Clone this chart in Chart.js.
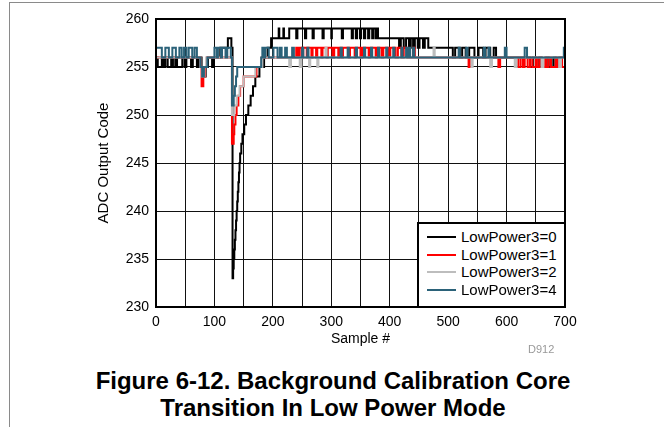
<!DOCTYPE html>
<html>
<head>
<meta charset="utf-8">
<script src="https://cdn.jsdelivr.net/npm/chart.js@4.4.1/dist/chart.umd.min.js"></script>
<style>
  html, body { margin: 0; padding: 0; background: #fff; }
  body { width: 664px; height: 427px; position: relative; overflow: hidden; font-family: "Liberation Sans", Arial, sans-serif; }
  #frame { position: absolute; left: 9px; top: 2px; width: 700px; height: 500px; border-left: 1px solid #8a8a8a; border-top: 1px solid #8a8a8a; box-sizing: border-box; }
  #c { position: absolute; left: 0; top: 0; }
  #legend { position: absolute; left: 417px; top: 222px; width: 149px; height: 86px; border: 2px solid #000; background: #fff; box-sizing: border-box; }
  .item { position: absolute; left: 0; height: 18px; width: 145px; }
  .item .ln { position: absolute; left: 8px; top: 8px; width: 29px; height: 2px; }
  .item .tx { position: absolute; left: 42px; top: 0; font-size: 15px; line-height: 18px; color: #000; white-space: nowrap; }
  #title { position: absolute; left: 0; width: 666px; top: 367px; text-align: center; font-weight: bold; font-size: 24px; line-height: 27px; color: #000; }
  #code { position: absolute; left: 528px; top: 343px; font-size: 11px; color: #999; }
</style>
</head>
<body>
<div id="frame"></div>
<canvas id="c" width="664" height="360"></canvas>
<div id="legend"></div>
<div id="code">D912</div>
<div id="title">Figure 6-12. Background Calibration Core<br>Transition In Low Power Mode</div>
<script>
// Step change points: [sample #, ADC code]
const lowPower0 = [[0,256],[3,255],[10,256],[13,255],[16,256],[20,255],[26,256],[29,255],[33,256],[36,255],[45,256],[49,255],[52,256],[60,255],[63,256],[70,255],[73,256],[78,255],[80,254],[85,255],[89,256],[96,255],[99,256],[110,257],[123,258],[129,257],[131,233],[132,234],[133,235],[134,236],[135,237],[136,238],[137,239],[138,240],[139,241],[140,242],[141,243],[142,244],[143,245],[144,246],[146,247],[148,248],[151,249],[154,250],[158,251],[162,252],[166,253],[170,254],[177,255],[185,256],[191,257],[197,258],[210,259],[211,258],[218,259],[219,258],[228,259],[240,258],[242,259],[255,258],[257,259],[268,258],[270,259],[285,258],[287,259],[300,258],[301,259],[318,258],[320,259],[335,258],[337,259],[342,258],[344,259],[349,258],[351,259],[356,258],[358,259],[363,258],[365,259],[370,258],[372,259],[376,258],[377,259],[380,258],[416,257],[419,258],[424,257],[428,258],[433,257],[436,258],[440,257],[443,258],[448,257],[451,258],[457,257],[460,258],[466,257],[508,256],[512,257],[520,256],[524,257],[530,256],[536,257],[545,256],[552,257],[560,256],[564,257],[572,256],[578,257],[582,256],[640,255],[645,256],[650,255],[656,256],[660,255],[668,256],[672,255],[680,256],[684,255],[690,256],[694,255],[700,255]];
const lowPower1 = [[0,256],[76,255],[78,253],[81,254],[84,255],[87,256],[130,247],[133,248],[134,249],[136,250],[138,251],[141,252],[144,253],[150,254],[172,255],[181,256],[240,257],[243,256],[246,257],[250,256],[252,257],[258,256],[260,257],[266,256],[268,257],[274,256],[276,257],[283,256],[285,257],[292,256],[294,257],[302,256],[305,257],[312,256],[314,257],[318,256],[320,257],[330,256],[332,257],[340,256],[342,257],[350,256],[353,257],[364,256],[366,257],[376,256],[378,257],[386,256],[389,257],[398,256],[401,257],[410,256],[414,257],[420,256],[424,257],[430,256],[440,257],[443,256],[535,255],[537,256],[586,255],[589,256],[620,255],[624,256],[628,255],[631,256],[636,255],[640,256],[644,255],[650,256],[652,255],[656,256],[660,255],[666,256],[668,255],[672,256],[676,255],[684,256],[687,255],[692,256],[695,255],[700,255]];
const lowPower2 = [[0,256],[76,255],[79,254],[83,255],[86,256],[130,250],[134,251],[138,252],[143,253],[150,254],[170,255],[182,256],[228,255],[231,256],[246,255],[249,256],[262,255],[264,256],[276,255],[278,256],[290,257],[292,256],[475,257],[477,256],[540,255],[542,256],[572,255],[575,256],[614,255],[617,256],[660,255],[663,256],[690,255],[693,256],[700,256]];
const lowPower4 = [[0,257],[10,256],[16,257],[22,256],[28,257],[34,256],[40,257],[44,256],[48,257],[52,256],[56,257],[62,256],[66,257],[70,256],[76,255],[79,254],[82,255],[88,256],[100,257],[104,256],[106,257],[111,256],[113,257],[119,256],[122,257],[128,256],[130,251],[133,252],[135,253],[137,254],[139,255],[180,256],[182,257],[185,256],[187,257],[193,256],[201,257],[208,256],[212,257],[215,256],[221,257],[224,256],[233,257],[236,256],[250,257],[252,256],[259,257],[261,256],[316,257],[318,256],[328,257],[330,256],[342,257],[344,256],[356,257],[358,256],[368,257],[370,256],[380,257],[382,256],[394,257],[396,256],[406,257],[408,256],[420,257],[422,256],[428,257],[430,256],[433,257],[435,256],[440,257],[442,256],[518,257],[520,256],[531,257],[533,256],[561,257],[563,256],[569,257],[571,256],[597,257],[600,256],[631,257],[635,256],[698,257],[700,257]];

const seriesNames = ['LowPower3=0', 'LowPower3=1', 'LowPower3=2', 'LowPower3=4'];
const seriesData = [lowPower0, lowPower1, lowPower2, lowPower4];
const seriesColors = ['#000000', '#ff0000', '#bdbdbd', '#2b6279'];
const xTicks = [0, 100, 200, 300, 400, 500, 600, 700];
const yTicks = [230, 235, 240, 245, 250, 255, 260];

const font = { family: '"Liberation Sans", Arial, sans-serif', size: 14 };
const yTitleFont = { family: '"Liberation Sans", Arial, sans-serif', size: 15 };

const frameBorder = {
  id: 'frameBorder',
  afterDatasetsDraw(chart) {
    const a = chart.chartArea, ctx = chart.ctx;
    ctx.save();
    ctx.strokeStyle = '#000';
    ctx.lineWidth = 2;
    ctx.strokeRect(a.left, a.top, a.right - a.left, a.bottom - a.top);
    ctx.restore();
  }
};

new Chart(document.getElementById('c'), {
  type: 'line',
  data: {
    datasets: seriesData.map((d, i) => ({
      label: seriesNames[i],
      data: d.map(p => ({ x: p[0], y: p[1] })),
      borderColor: seriesColors[i],
      backgroundColor: seriesColors[i],
      borderWidth: 2,
      pointRadius: 0,
      stepped: true,
      fill: false,
      order: 4 - i
    }))
  },
  options: {
    responsive: false,
    animation: false,
    layout: { padding: { left: 0, top: 19, right: 99, bottom: 0 } },
    plugins: { legend: { display: false }, tooltip: { enabled: false } },
    scales: {
      x: {
        type: 'linear', min: 0, max: 700,
        ticks: {
          stepSize: 50, autoSkip: false, maxRotation: 0, padding: 7, color: '#000', font,
          callback: v => (xTicks.includes(v) ? String(v) : '')
        },
        grid: { color: '#111', lineWidth: 1, drawTicks: false },
        border: { display: true, color: '#000', width: 2 },
        title: { display: true, text: 'Sample #', color: '#000', font, padding: { top: 0, bottom: 12 } },
        afterFit: s => { s.height = 53; }
      },
      y: {
        min: 230, max: 260,
        afterBuildTicks: s => { s.ticks = yTicks.map(v => ({ value: v })); },
        ticks: { padding: 7, color: '#000', font },
        grid: { color: '#111', lineWidth: 1, drawTicks: false },
        border: { display: true, color: '#000', width: 2 },
        title: { display: true, text: 'ADC Output Code', color: '#000', font: yTitleFont, padding: { top: 95, bottom: 0 } },
        afterFit: s => { s.width = 156; }
      }
    }
  },
  plugins: [frameBorder]
});

// legend (HTML text)
const lg = document.getElementById('legend');
seriesNames.forEach((n, i) => {
  const it = document.createElement('div');
  it.className = 'item';
  it.style.top = (4 + i * 17.7) + 'px';
  it.innerHTML = '<div class="ln" style="background:' + seriesColors[i] + '"></div><div class="tx">' + n + '</div>';
  lg.appendChild(it);
});
</script>
</body>
</html>
